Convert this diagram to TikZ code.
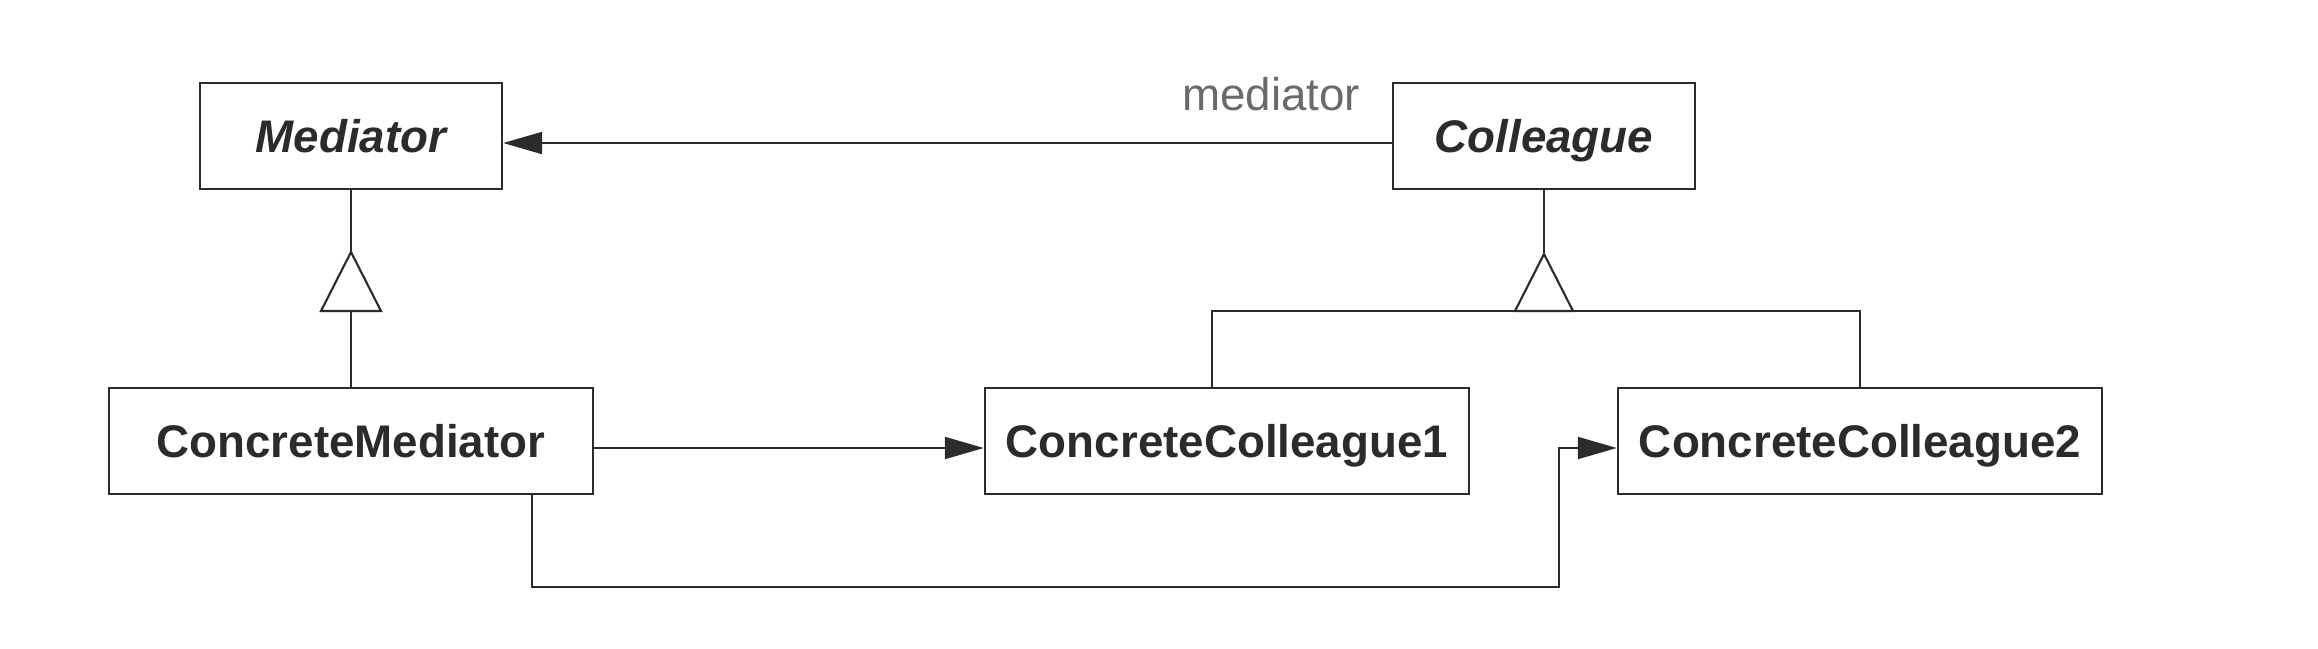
\documentclass[tikz,border=0pt]{standalone}
\usepackage{fontspec}
\setsansfont{Liberation Sans}
\usetikzlibrary{arrows.meta}
\definecolor{linegray}{HTML}{2B2B2B}
\definecolor{rolegray}{HTML}{6A6A6A}

\begin{document}
\begin{tikzpicture}[x=0.01cm, y=-0.01cm,
	every node/.style={font=\sffamily\fontsize{13}{15}\selectfont},
	line/.style={draw=linegray, line width=0.6pt},
	assoc/.style={line, -{Triangle[length=0.39cm, width=0.22cm]}, fill=linegray},
	cls/.style={line, text=linegray, inner sep=0pt, minimum height=1.06cm,
		text height=0.42cm, text depth=0.10cm,
		font=\sffamily\bfseries\fontsize{13}{15}\selectfont},
	abstract/.style={cls, minimum width=3.02cm,
		font=\sffamily\bfseries\itshape\fontsize{13}{15}\selectfont},
	concrete/.style={cls, minimum width=4.84cm}]

\useasboundingbox (0,0) rectangle (2318,648);

% Classes
\node[abstract] (med) at (351,136) {Mediator};
\node[abstract] (col) at (1544,136) {Colleague};
\node[concrete] (cm) at (351,441) {ConcreteMediator};
\node[concrete] (cc1) at (1227,441) {ConcreteColleague1};
\node[concrete] (cc2) at (1860,441) {ConcreteColleague2};

% Role name
\node[anchor=base, text=rolegray] (role) at (1271,110) {mediator};

% Associations
\draw[assoc] ([yshift=-0.07cm]col.west) -- ([yshift=-0.07cm]med.east);
\draw[assoc] ([yshift=-0.07cm]cm.east) -- ([yshift=-0.07cm]cc1.west);

\coordinate (bend) at (1559,587);
\draw[assoc, fill=none] ([xshift=1.81cm]cm.south) |- (bend) |- ([yshift=-0.07cm]cc2.west);

% Inheritance Mediator
\coordinate (tri1) at (351,252);
\coordinate (base1) at (351,311);
\draw[line] (med.south) -- (tri1);
\draw[line] (tri1) -- ++(-30,59) -- ++(60,0) -- cycle;
\draw[line] (base1) -- (cm.north);

% Inheritance Colleague
\coordinate (tri2) at (1544,254);
\coordinate (base2) at (1544,311);
\draw[line] (col.south) -- (tri2);
\draw[line] ([xshift=-0.15cm]cc1.north) |- (base2) -| (cc2.north);
\draw[line] (tri2) -- ++(-29,57) -- ++(58,0) -- cycle;

\end{tikzpicture}
\end{document}
